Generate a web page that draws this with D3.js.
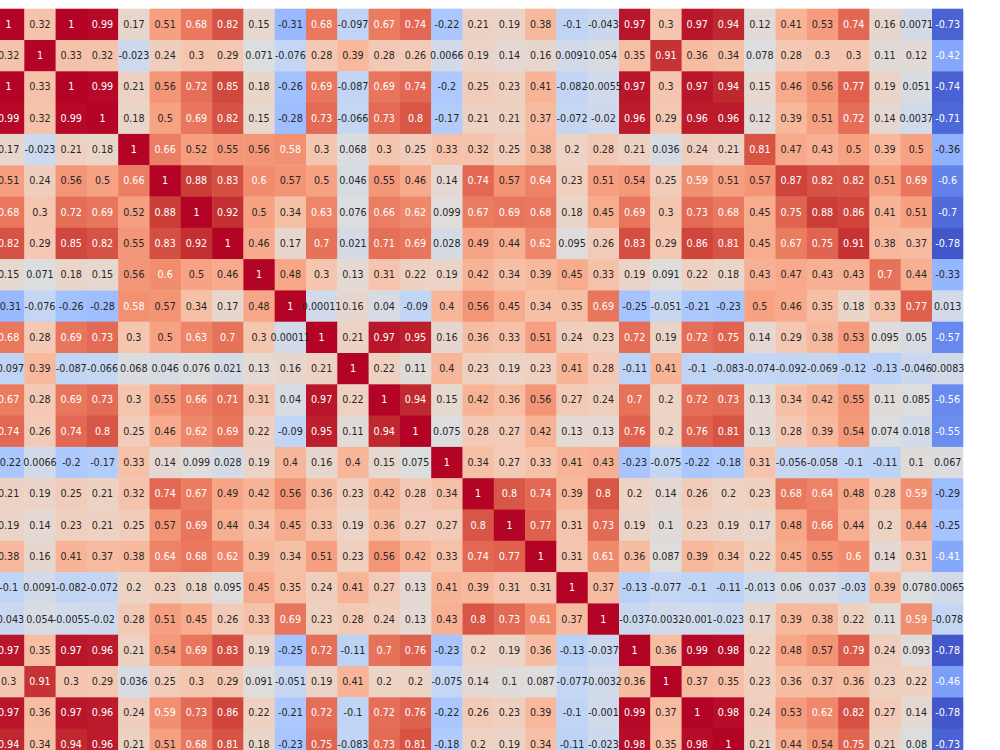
<!DOCTYPE html>
<html><head><meta charset="utf-8">
<script src="https://cdn.jsdelivr.net/npm/d3@7"></script>
<style>html,body{margin:0;padding:0;background:#fff;overflow:hidden}</style>
</head><body>
<svg id="chart" width="1000" height="750"></svg>
<script>
// 31 variables (their names lie outside the visible crop)
const variables = d3.range(1, 32).map(i => "v" + i);

// visible rows of the correlation matrix (rows 1..24, all 31 columns)
const row01 = [1,0.32,1,0.99,0.17,0.51,0.68,0.82,0.15,-0.31,0.68,-0.097,0.67,0.74,-0.22,0.21,0.19,0.38,-0.1,-0.043,0.97,0.3,0.97,0.94,0.12,0.41,0.53,0.74,0.16,0.0071,-0.73];
const row02 = [0.32,1,0.33,0.32,-0.023,0.24,0.3,0.29,0.071,-0.076,0.28,0.39,0.28,0.26,0.0066,0.19,0.14,0.16,0.0091,0.054,0.35,0.91,0.36,0.34,0.078,0.28,0.3,0.3,0.11,0.12,-0.42];
const row03 = [1,0.33,1,0.99,0.21,0.56,0.72,0.85,0.18,-0.26,0.69,-0.087,0.69,0.74,-0.2,0.25,0.23,0.41,-0.082,-0.0055,0.97,0.3,0.97,0.94,0.15,0.46,0.56,0.77,0.19,0.051,-0.74];
const row04 = [0.99,0.32,0.99,1,0.18,0.5,0.69,0.82,0.15,-0.28,0.73,-0.066,0.73,0.8,-0.17,0.21,0.21,0.37,-0.072,-0.02,0.96,0.29,0.96,0.96,0.12,0.39,0.51,0.72,0.14,0.0037,-0.71];
const row05 = [0.17,-0.023,0.21,0.18,1,0.66,0.52,0.55,0.56,0.58,0.3,0.068,0.3,0.25,0.33,0.32,0.25,0.38,0.2,0.28,0.21,0.036,0.24,0.21,0.81,0.47,0.43,0.5,0.39,0.5,-0.36];
const row06 = [0.51,0.24,0.56,0.5,0.66,1,0.88,0.83,0.6,0.57,0.5,0.046,0.55,0.46,0.14,0.74,0.57,0.64,0.23,0.51,0.54,0.25,0.59,0.51,0.57,0.87,0.82,0.82,0.51,0.69,-0.6];
const row07 = [0.68,0.3,0.72,0.69,0.52,0.88,1,0.92,0.5,0.34,0.63,0.076,0.66,0.62,0.099,0.67,0.69,0.68,0.18,0.45,0.69,0.3,0.73,0.68,0.45,0.75,0.88,0.86,0.41,0.51,-0.7];
const row08 = [0.82,0.29,0.85,0.82,0.55,0.83,0.92,1,0.46,0.17,0.7,0.021,0.71,0.69,0.028,0.49,0.44,0.62,0.095,0.26,0.83,0.29,0.86,0.81,0.45,0.67,0.75,0.91,0.38,0.37,-0.78];
const row09 = [0.15,0.071,0.18,0.15,0.56,0.6,0.5,0.46,1,0.48,0.3,0.13,0.31,0.22,0.19,0.42,0.34,0.39,0.45,0.33,0.19,0.091,0.22,0.18,0.43,0.47,0.43,0.43,0.7,0.44,-0.33];
const row10 = [-0.31,-0.076,-0.26,-0.28,0.58,0.57,0.34,0.17,0.48,1,0.00011,0.16,0.04,-0.09,0.4,0.56,0.45,0.34,0.35,0.69,-0.25,-0.051,-0.21,-0.23,0.5,0.46,0.35,0.18,0.33,0.77,0.013];
const row11 = [0.68,0.28,0.69,0.73,0.3,0.5,0.63,0.7,0.3,0.00011,1,0.21,0.97,0.95,0.16,0.36,0.33,0.51,0.24,0.23,0.72,0.19,0.72,0.75,0.14,0.29,0.38,0.53,0.095,0.05,-0.57];
const row12 = [-0.097,0.39,-0.087,-0.066,0.068,0.046,0.076,0.021,0.13,0.16,0.21,1,0.22,0.11,0.4,0.23,0.19,0.23,0.41,0.28,-0.11,0.41,-0.1,-0.083,-0.074,-0.092,-0.069,-0.12,-0.13,-0.046,0.0083];
const row13 = [0.67,0.28,0.69,0.73,0.3,0.55,0.66,0.71,0.31,0.04,0.97,0.22,1,0.94,0.15,0.42,0.36,0.56,0.27,0.24,0.7,0.2,0.72,0.73,0.13,0.34,0.42,0.55,0.11,0.085,-0.56];
const row14 = [0.74,0.26,0.74,0.8,0.25,0.46,0.62,0.69,0.22,-0.09,0.95,0.11,0.94,1,0.075,0.28,0.27,0.42,0.13,0.13,0.76,0.2,0.76,0.81,0.13,0.28,0.39,0.54,0.074,0.018,-0.55];
const row15 = [-0.22,0.0066,-0.2,-0.17,0.33,0.14,0.099,0.028,0.19,0.4,0.16,0.4,0.15,0.075,1,0.34,0.27,0.33,0.41,0.43,-0.23,-0.075,-0.22,-0.18,0.31,-0.056,-0.058,-0.1,-0.11,0.1,0.067];
const row16 = [0.21,0.19,0.25,0.21,0.32,0.74,0.67,0.49,0.42,0.56,0.36,0.23,0.42,0.28,0.34,1,0.8,0.74,0.39,0.8,0.2,0.14,0.26,0.2,0.23,0.68,0.64,0.48,0.28,0.59,-0.29];
const row17 = [0.19,0.14,0.23,0.21,0.25,0.57,0.69,0.44,0.34,0.45,0.33,0.19,0.36,0.27,0.27,0.8,1,0.77,0.31,0.73,0.19,0.1,0.23,0.19,0.17,0.48,0.66,0.44,0.2,0.44,-0.25];
const row18 = [0.38,0.16,0.41,0.37,0.38,0.64,0.68,0.62,0.39,0.34,0.51,0.23,0.56,0.42,0.33,0.74,0.77,1,0.31,0.61,0.36,0.087,0.39,0.34,0.22,0.45,0.55,0.6,0.14,0.31,-0.41];
const row19 = [-0.1,0.0091,-0.082,-0.072,0.2,0.23,0.18,0.095,0.45,0.35,0.24,0.41,0.27,0.13,0.41,0.39,0.31,0.31,1,0.37,-0.13,-0.077,-0.1,-0.11,-0.013,0.06,0.037,-0.03,0.39,0.078,0.0065];
const row20 = [-0.043,0.054,-0.0055,-0.02,0.28,0.51,0.45,0.26,0.33,0.69,0.23,0.28,0.24,0.13,0.43,0.8,0.73,0.61,0.37,1,-0.037,-0.0032,-0.001,-0.023,0.17,0.39,0.38,0.22,0.11,0.59,-0.078];
const row21 = [0.97,0.35,0.97,0.96,0.21,0.54,0.69,0.83,0.19,-0.25,0.72,-0.11,0.7,0.76,-0.23,0.2,0.19,0.36,-0.13,-0.037,1,0.36,0.99,0.98,0.22,0.48,0.57,0.79,0.24,0.093,-0.78];
const row22 = [0.3,0.91,0.3,0.29,0.036,0.25,0.3,0.29,0.091,-0.051,0.19,0.41,0.2,0.2,-0.075,0.14,0.1,0.087,-0.077,-0.0032,0.36,1,0.37,0.35,0.23,0.36,0.37,0.36,0.23,0.22,-0.46];
const row23 = [0.97,0.36,0.97,0.96,0.24,0.59,0.73,0.86,0.22,-0.21,0.72,-0.1,0.72,0.76,-0.22,0.26,0.23,0.39,-0.1,-0.001,0.99,0.37,1,0.98,0.24,0.53,0.62,0.82,0.27,0.14,-0.78];
const row24 = [0.94,0.34,0.94,0.96,0.21,0.51,0.68,0.81,0.18,-0.23,0.75,-0.083,0.73,0.81,-0.18,0.2,0.19,0.34,-0.11,-0.023,0.98,0.35,0.98,1,0.21,0.44,0.54,0.75,0.21,0.08,-0.73];

const rows = [row01,row02,row03,row04,row05,row06,row07,row08,row09,row10,row11,row12,
              row13,row14,row15,row16,row17,row18,row19,row20,row21,row22,row23,row24];

// colour-scale limits
const vmin = -0.83, vmax = 1;

// coolwarm colormap (Moreland diverging) control points
const coolwarmStops = [
 [59,76,192],[68,90,204],[77,104,215],[87,117,225],[98,130,234],[108,142,241],[119,154,247],
 [130,165,251],[141,176,254],[152,185,255],[163,194,255],[174,201,253],[184,208,249],[194,213,244],
 [204,217,238],[213,219,230],[221,221,221],[229,216,209],[236,211,197],[241,204,185],[245,196,173],
 [247,187,160],[247,177,148],[247,166,135],[244,154,123],[241,141,111],[236,127,99],[229,112,88],
 [222,96,77],[213,80,66],[203,62,56],[192,40,47],[180,4,38]];

const cmap = d3.scaleLinear()
  .domain(coolwarmStops.map((_, i) => i / (coolwarmStops.length - 1)))
  .range(coolwarmStops.map(c => `rgb(${c[0]},${c[1]},${c[2]})`))
  .interpolate(d3.interpolateRgb);

const norm = d3.scaleLinear().domain([vmin, vmax]).range([0, 1]).clamp(true);
function colorFor(v) {
  const idx = Math.min(255, Math.max(0, Math.floor(norm(v) * 256)));
  return cmap(idx / 255);
}
function luminance(col) {
  const c = d3.rgb(col);
  const lin = t => { t /= 255; return t <= 0.03928 ? t / 12.92 : Math.pow((t + 0.055) / 1.055, 2.4); };
  return 0.2126 * lin(c.r) + 0.7152 * lin(c.g) + 0.0722 * lin(c.b);
}

const fmt = d3.formatLocale({decimal: ".", thousands: ",", grouping: [3], currency: ["", ""], minus: "-"}).format(".2~g");

const cellSize = 31.3, gridLeft = -7, gridTop = 8.7;
const x = d3.scaleBand().domain(variables).range([gridLeft, gridLeft + variables.length * cellSize]).padding(0);
const y = d3.scaleBand().domain(variables).range([gridTop, gridTop + variables.length * cellSize]).padding(0);

const svg = d3.select("#chart");
const cells = [];
rows.forEach((r, i) => r.forEach((v, j) => cells.push({row: variables[i], col: variables[j], v})));

svg.append("g").selectAll("rect").data(cells).join("rect")
  .attr("x", d => x(d.col))
  .attr("y", d => y(d.row))
  .attr("width", d => d.col === variables[variables.length - 1] ? x.bandwidth() : x.bandwidth() + 0.4)
  .attr("height", y.bandwidth() + 0.4)
  .attr("fill", d => colorFor(d.v));

svg.append("g").selectAll("text").data(cells).join("text")
  .attr("x", d => x(d.col) + x.bandwidth() / 2)
  .attr("y", d => y(d.row) + y.bandwidth() / 2)
  .attr("dy", "0.36em")
  .attr("text-anchor", "middle")
  .attr("font-family", "DejaVu Sans")
  .attr("font-size", "9.6px")
  .attr("fill", d => luminance(colorFor(d.v)) > 0.408 ? "#262626" : "#ffffff")
  .text(d => fmt(d.v));
</script>
</body></html>
